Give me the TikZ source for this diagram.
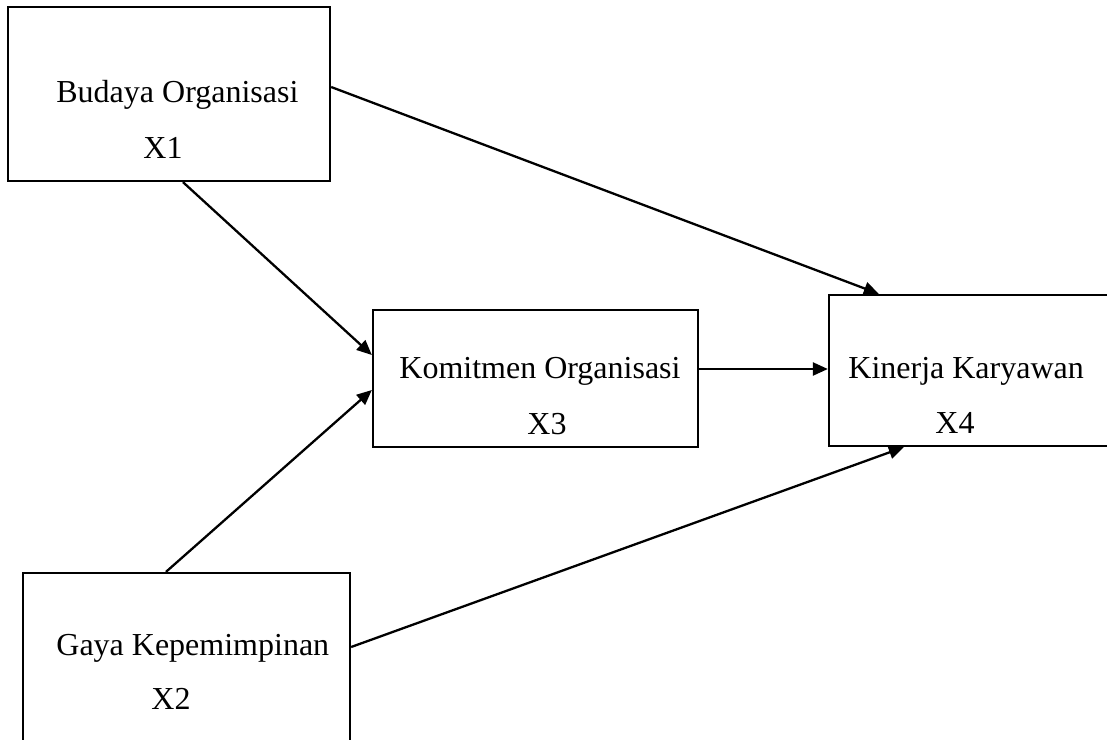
\documentclass[tikz,border=0pt]{standalone}
\usepackage{fontspec}
\setmainfont{Liberation Serif}
\usetikzlibrary{arrows.meta,calc}

\begin{document}
\begin{tikzpicture}[
    x=0.5pt, y=-0.5pt,
    var_box_style/.style={rectangle, draw, line width=1.15pt, inner sep=0pt},
    var_text_style/.style={anchor=base west, inner sep=0pt, font=\fontsize{16}{19}\selectfont},
    path_arrow_style/.style={line width=1.15pt, -{Triangle[length=7.5pt,width=6.5pt]}}
]
\useasboundingbox (0,0) rectangle (1107,739);

% Boxes of the variables
\node[var_box_style, minimum width=161pt, minimum height=87pt] (x1) at (169,94) {};
\node[var_box_style, minimum width=163.5pt, minimum height=95pt] (x2) at (186.5,668) {};
\node[var_box_style, minimum width=162.5pt, minimum height=68.5pt] (x3) at (535.5,378.5) {};
\node[var_box_style, minimum width=150.5pt, minimum height=75.5pt] (x4) at (979.5,370.5) {};

% Texts
\node[var_text_style] (t1) at (56,102) {Budaya Organisasi};
\node[var_text_style] (n1) at (143,158) {X1};
\node[var_text_style] (t2) at (56,655) {Gaya Kepemimpinan};
\node[var_text_style] (n2) at (151,709) {X2};
\node[var_text_style] (t3) at (399,378) {Komitmen Organisasi};
\node[var_text_style] (n3) at (527,434) {X3};
\node[var_text_style] (t4) at (848,378) {Kinerja Karyawan};
\node[var_text_style] (n4) at (935,433) {X4};

% Ends of the paths
\coordinate (x1_out_a) at ($(x1.east)+(0,-7)$);
\coordinate (x4_in_a) at ($(x4.north west)+(51,0)$);
\coordinate (x1_out_b) at ($(x1.south)+(14,0)$);
\coordinate (x3_in_b) at ($(x3.west)+(0,-23.5)$);
\coordinate (x2_out_c) at ($(x2.north)+(-20.5,0)$);
\coordinate (x3_in_c) at ($(x3.west)+(0,11.5)$);
\coordinate (x3_out_d) at ($(x3.east)+(0,-9.5)$);
\coordinate (x4_in_d) at ($(x4.west)+(0,-1.5)$);
\coordinate (x2_out_e) at ($(x2.east)+(0,-21)$);
\coordinate (x4_in_e) at ($(x4.south west)+(76,0)$);

\foreach \u/\v in {x1_out_a/x4_in_a,x1_out_b/x3_in_b,x2_out_c/x3_in_c,x3_out_d/x4_in_d,x2_out_e/x4_in_e}
    \draw[path_arrow_style] (\u) -- (\v);

\end{tikzpicture}
\end{document}
